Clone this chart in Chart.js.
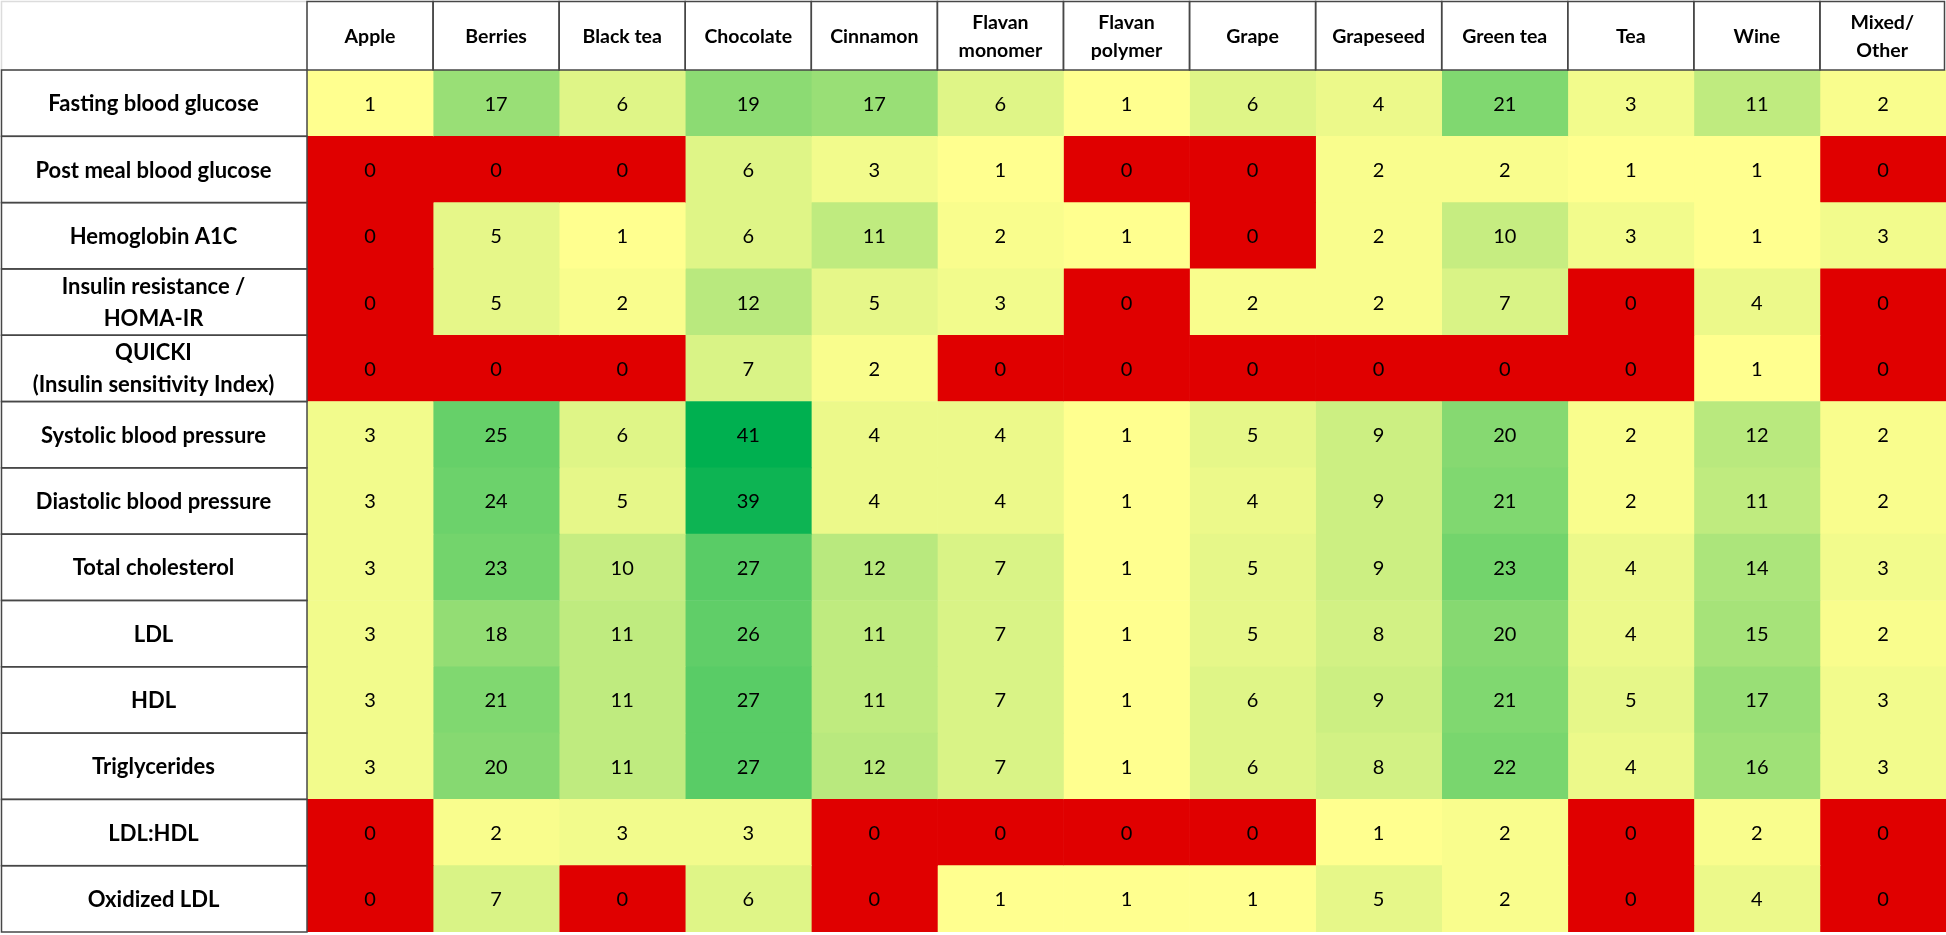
<!DOCTYPE html>
<html>
<head>
<meta charset="utf-8">
<title>Polyphenol sources vs outcomes</title>
<script src="https://cdn.jsdelivr.net/npm/chart.js@4.4.0/dist/chart.umd.min.js"></script>
<style>
  html, body { margin: 0; padding: 0; background: #ffffff; }
  #wrap { width: 1946px; height: 935px; position: relative; }
</style>
</head>
<body>
<div id="wrap"><canvas id="heatTable"></canvas></div>
<script>
// columns (food sources) and rows (outcomes)
const foods = ['Apple', 'Berries', 'Black tea', 'Chocolate', 'Cinnamon', ['Flavan', 'monomer'], ['Flavan', 'polymer'],
  'Grape', 'Grapeseed', 'Green tea', 'Tea', 'Wine', ['Mixed/', 'Other']];
const outcomes = ['Fasting blood glucose', 'Post meal blood glucose', 'Hemoglobin A1C',
  ['Insulin resistance /', 'HOMA-IR'], ['QUICKI', '(Insulin sensitivity Index)'],
  'Systolic blood pressure', 'Diastolic blood pressure', 'Total cholesterol', 'LDL', 'HDL',
  'Triglycerides', 'LDL:HDL', 'Oxidized LDL'];

// number of studies per outcome, one value per food column
const fastingGlucose   = [1, 17, 6, 19, 17, 6, 1, 6, 4, 21, 3, 11, 2];
const postMealGlucose  = [0, 0, 0, 6, 3, 1, 0, 0, 2, 2, 1, 1, 0];
const hba1c            = [0, 5, 1, 6, 11, 2, 1, 0, 2, 10, 3, 1, 3];
const homaIR           = [0, 5, 2, 12, 5, 3, 0, 2, 2, 7, 0, 4, 0];
const quicki           = [0, 0, 0, 7, 2, 0, 0, 0, 0, 0, 0, 1, 0];
const systolicBP       = [3, 25, 6, 41, 4, 4, 1, 5, 9, 20, 2, 12, 2];
const diastolicBP      = [3, 24, 5, 39, 4, 4, 1, 4, 9, 21, 2, 11, 2];
const totalChol        = [3, 23, 10, 27, 12, 7, 1, 5, 9, 23, 4, 14, 3];
const ldl              = [3, 18, 11, 26, 11, 7, 1, 5, 8, 20, 4, 15, 2];
const hdl              = [3, 21, 11, 27, 11, 7, 1, 6, 9, 21, 5, 17, 3];
const triglycerides    = [3, 20, 11, 27, 12, 7, 1, 6, 8, 22, 4, 16, 3];
const ldlHdl           = [0, 2, 3, 3, 0, 0, 0, 0, 1, 2, 0, 2, 0];
const oxidizedLdl      = [0, 7, 0, 6, 0, 1, 1, 1, 5, 2, 0, 4, 0];

const rows = [fastingGlucose, postMealGlucose, hba1c, homaIR, quicki, systolicBP, diastolicBP,
  totalChol, ldl, hdl, triglycerides, ldlHdl, oxidizedLdl];

// colour scale: 0 is red, otherwise yellow -> green
const zeroColor = '#e00000';
const lowColor = [255, 255, 143];
const highColor = [0, 176, 80];
const minCount = 1;
const maxCount = Math.max(...rows.flat());

function cellColor(v) {
  if (v === 0) return zeroColor;
  const t = (v - minCount) / (maxCount - minCount);
  const c = lowColor.map((lo, i) => Math.round(lo + (highColor[i] - lo) * t));
  return 'rgb(' + c.join(',') + ')';
}

const FONT = 'Lato, "Noto Sans", sans-serif';

function drawLines(ctx, text, x, y, lineGap) {
  const lines = Array.isArray(text) ? text : [text];
  const start = y - (lines.length - 1) * lineGap / 2;
  lines.forEach((ln, i) => ctx.fillText(ln, x, start + i * lineGap));
}

// draws header cells, row label cells and the numbers inside each cell
const tableFrame = {
  id: 'tableFrame',
  afterDatasetsDraw(chart) {
    const ctx = chart.ctx;
    const area = chart.chartArea;
    ctx.save();
    ctx.textAlign = 'center';
    ctx.textBaseline = 'middle';
    ctx.fillStyle = '#000';

    // counts
    ctx.font = '20px ' + FONT;
    chart.data.datasets.forEach((ds, c) => {
      chart.getDatasetMeta(c).data.forEach((bar, r) => {
        ctx.fillText(String(ds.counts[r]), (bar.base + bar.x) / 2, bar.y + 1);
      });
    });

    // empty corner cell
    ctx.strokeStyle = '#dcdcdc';
    ctx.lineWidth = 1.5;
    ctx.strokeRect(1.5, 1.5, area.left - 1.5, area.top - 1.5);

    // column headers
    ctx.strokeStyle = '#474747';
    ctx.font = 'bold 19.5px ' + FONT;
    chart.data.datasets.forEach((ds, c) => {
      const bar = chart.getDatasetMeta(c).data[0];
      const left = bar.base;
      const right = Math.min(bar.x, chart.width - 1.5);
      ctx.strokeRect(left, 1.5, right - left, area.top - 1.5);
      drawLines(ctx, foods[c], (left + right) / 2, area.top / 2 + 1.5, 28);
    });

    // row labels
    ctx.font = 'bold 22px ' + FONT;
    chart.getDatasetMeta(0).data.forEach((bar, r) => {
      const top = bar.y - bar.height / 2;
      ctx.strokeRect(1.5, top, area.left - 1.5, bar.height);
      drawLines(ctx, outcomes[r], area.left / 2, bar.y + 1, 32);
    });
    ctx.restore();
  }
};

// each food is one stacked segment of unit width; colour and label come from the counts
const datasets = foods.map((food, c) => ({
  label: Array.isArray(food) ? food.join(' ') : food,
  data: rows.map(() => 1),
  counts: rows.map(r => r[c]),
  backgroundColor: rows.map(r => cellColor(r[c])),
  borderWidth: 0,
  barPercentage: 1,
  categoryPercentage: 1
}));

new Chart(document.getElementById('heatTable'), {
  type: 'bar',
  data: { labels: outcomes, datasets: datasets },
  options: {
    indexAxis: 'y',
    responsive: true,
    maintainAspectRatio: false,
    animation: false,
    layout: { padding: { left: 307, top: 70, right: 0, bottom: 3 } },
    scales: {
      x: { type: 'linear', stacked: true, min: 0, max: foods.length, display: false },
      y: { type: 'category', stacked: true, display: false }
    },
    plugins: {
      legend: { display: false },
      tooltip: { enabled: false }
    }
  },
  plugins: [tableFrame]
});
</script>
</body>
</html>
